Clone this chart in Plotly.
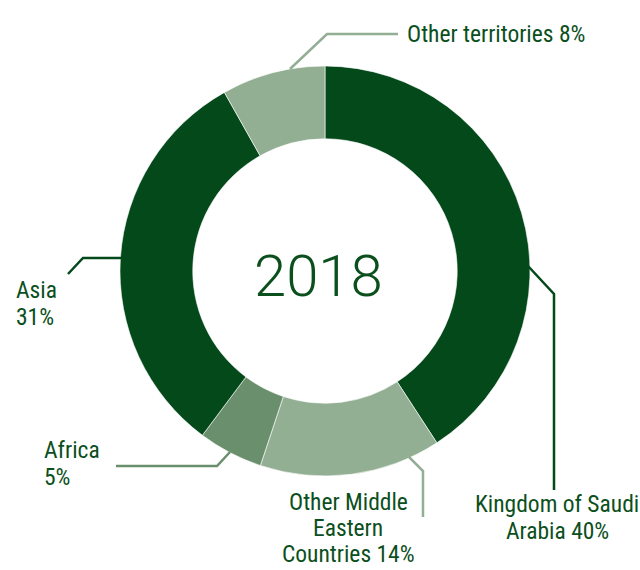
import plotly.graph_objects as go

# Revenue split by territory, 2018 (%)
territories = ["Kingdom of Saudi Arabia", "Other Middle Eastern Countries", "Africa", "Asia", "Other territories"]
shares = [40, 14, 5, 31, 8]
slice_colors = ["#03491a", "#92ae93", "#6a8f6c", "#03491a", "#92ae93"]
year_label = "2018"

# Label text, one entry per printed line
label_lines = {
    "Other territories": ["Other territories 8%"],
    "Kingdom of Saudi Arabia": ["Kingdom of Saudi", "Arabia 40%"],
    "Other Middle Eastern Countries": ["Other Middle", "Eastern", "Countries 14%"],
    "Africa": ["Africa", "5%"],
    "Asia": ["Asia", "31%"],
}

W, H = 640, 570
TEXT = "#0b4f1d"
FONT = "Roboto Condensed, Liberation Sans Narrow, Roboto, sans-serif"

def px(x, y):
    return x / W, 1 - y / H

cx, cy, r_out = 325, 271, 205

fig = go.Figure(go.Pie(
    labels=territories,
    values=shares,
    hole=0.645,
    sort=False,
    direction="clockwise",
    rotation=0,
    marker=dict(colors=slice_colors, line=dict(color="rgba(255,255,255,0.6)", width=1)),
    textinfo="none",
    hoverinfo="label+percent",
    domain=dict(x=[(cx - r_out) / W, (cx + r_out) / W],
                y=[(H - cy - r_out) / H, (H - cy + r_out) / H]),
    showlegend=False,
))

# leader lines: (points in pixels, colour)
leaders = [
    ([(290, 69), (327, 34), (398, 34)], "#92ae93"),
    ([(528, 266), (554, 294), (554, 490)], "#03491a"),
    ([(409, 457), (423, 471), (423, 517)], "#92ae93"),
    ([(230, 452), (217, 466), (116, 466)], "#6a8f6c"),
    ([(121, 258), (83, 258), (68, 274)], "#03491a"),
]
shapes = []
for pts, col in leaders:
    path = "M " + " L ".join(f"{px(x, y)[0]},{px(x, y)[1]}" for x, y in pts)
    shapes.append(dict(type="path", xref="paper", yref="paper", path=path,
                       line=dict(color=col, width=2.5)))

# label placement: first-line centre (pixels), line step, alignment
placement = {
    "Other territories": (406, 34, 27, "left"),
    "Kingdom of Saudi Arabia": (557, 504, 27, "center"),
    "Other Middle Eastern Countries": (348, 502, 26, "center"),
    "Africa": (43, 450, 27, "left"),
    "Asia": (15, 290, 27, "left"),
}
annotations = []
for name, (x, y, step, al) in placement.items():
    for i, line in enumerate(label_lines[name]):
        ax, ay = px(x, y + i * step)
        annotations.append(dict(
            text=line, x=ax, y=ay, xref="paper", yref="paper",
            xanchor=al, yanchor="middle", showarrow=False, borderpad=0,
            font=dict(family=FONT, size=23.5, color=TEXT)))

annotations.append(dict(
    text=year_label, x=px(318, 276)[0], y=px(318, 276)[1], xref="paper", yref="paper",
    xanchor="center", yanchor="middle", showarrow=False,
    font=dict(family="Roboto, sans-serif", size=58, color=TEXT, weight=300)))

fig.update_layout(
    width=W, height=H,
    margin=dict(l=0, r=0, t=0, b=0),
    paper_bgcolor="white", plot_bgcolor="white",
    shapes=shapes, annotations=annotations,
)

fig.write_html("out.html")
